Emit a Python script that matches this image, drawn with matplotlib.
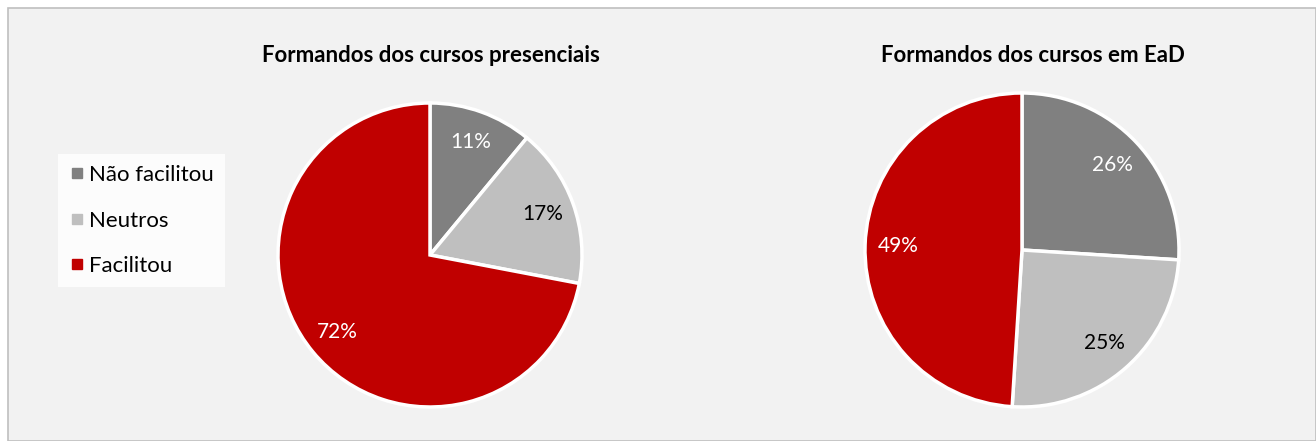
import matplotlib.pyplot as plt
from matplotlib.patches import Rectangle
from matplotlib.lines import Line2D

# Data
categories = ["Não facilitou", "Neutros", "Facilitou"]
presenciais = [11, 17, 72]
ead = [26, 25, 49]
colors = ["#808080", "#BFBFBF", "#C00000"]
label_colors = ["white", "black", "white"]

W, H = 1316, 441
plt.rcParams["font.family"] = ["Lato", "DejaVu Sans"]

fig = plt.figure(figsize=(W / 100, H / 100), dpi=100)
fig.patch.set_facecolor("white")

# chart area background
fig.patches.append(Rectangle((8 / W, 0), 1 - 8 / W, (H - 8) / H, transform=fig.transFigure,
                             facecolor="#F2F2F2", edgecolor="#BFBFBF", linewidth=1.2, zorder=-10))


def draw_pie(values, cx, cy, r, title, tx):
    pad = 1.03
    ax = fig.add_axes([(cx - r * pad) / W, (H - cy - r * pad) / H, 2 * r * pad / W, 2 * r * pad / H])
    ax.patch.set_visible(False)
    wedges, texts, autotexts = ax.pie(values, colors=colors, startangle=90, counterclock=False,
                                      autopct="%d%%", pctdistance=0.79,
                                      wedgeprops=dict(edgecolor="white", linewidth=2.5))
    for t, c in zip(autotexts, label_colors):
        t.set_color(c)
        t.set_fontsize(15)
    ax.set_xlim(-pad, pad)
    ax.set_ylim(-pad, pad)
    ax.set_aspect("equal")
    fig.text(tx / W, 1 - 56 / H, title, ha="center", va="center", fontsize=16, fontweight="bold")


draw_pie(presenciais, 430, 255, 152, "Formandos dos cursos presenciais", 431)
draw_pie(ead, 1022, 250, 157, "Formandos dos cursos em EaD", 1033)

handles = [Line2D([], [], marker="s", linestyle="", color=c, markersize=7) for c in colors]
leg = fig.legend(handles, categories, loc="upper left", bbox_to_anchor=(58 / W, 1 - 154 / H),
                 frameon=True, fancybox=False, fontsize=16, labelspacing=1.15,
                 handletextpad=0.2, borderpad=0.5, handlelength=0.7, borderaxespad=0)
leg.get_frame().set_facecolor("white")
leg.get_frame().set_edgecolor("none")

fig.savefig("out.png", dpi=100)
